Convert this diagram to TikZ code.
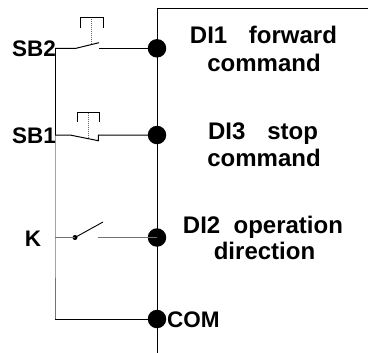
\documentclass[tikz,border=0pt]{standalone}
\usepackage{fontspec}
\setmainfont{Liberation Sans}
\begin{document}
\begin{tikzpicture}[x=1bp,y=-1bp,
  wire/.style={line width=1bp,black},
  kwire/.style={line width=1bp,black!55},
  stem/.style={line width=1bp,black!60,densely dotted},
  term/.style={circle,fill=black,inner sep=0pt,minimum size=18.5bp},
  lab/.style={font=\bfseries\fontsize{22.5bp}{26bp}\selectfont,inner sep=0pt},
  rtxt/.style={font=\bfseries\fontsize{24bp}{28bp}\selectfont,inner sep=0pt,anchor=base},
  kdot/.style={circle,fill=black,inner sep=0pt,minimum size=5bp}]
\useasboundingbox (0,0) rectangle (368,353);
% main vertical rail and top line
\coordinate (topR) at (368,8.7);
\coordinate (topL) at (157,8.7);
\coordinate (botR) at (157,353);
\draw[wire] (topR) -- (topL) -- (botR);
% terminals
\node[term] (t1) at (157,48.3) {};
\node[term] (t3) at (157,135) {};
\node[term] (t2) at (157,237.5) {};
\node[term] (tc) at (157,319) {};
% left rail
\coordinate (l1) at (55,48.3);
\coordinate (l3) at (55,135);
\coordinate (l2) at (55,237.5);
\coordinate (lc) at (55,319);
\draw[wire] (l1) -- (l3);
\draw[kwire] (l3) -- (l2) -- (lc);
\draw[wire] (lc) -- (tc.center);
% SB2 normally open push button
\coordinate (a1) at (76,48.3);
\coordinate (b1) at (99,42.7);
\coordinate (c1) at (99,48.3);
\draw[wire] (l1) -- (a1) -- (b1);
\draw[wire] (c1) -- (t1.center);
\coordinate (s1a) at (91.7,17.3);
\coordinate (s1b) at (91.7,45);
\draw[stem] (s1a) -- (s1b);
\coordinate (p1a) at (80,28.3);
\coordinate (p1b) at (80,17.3);
\coordinate (p1c) at (103.3,17.3);
\coordinate (p1d) at (103.3,28.3);
\draw[wire] (p1a) -- (p1b) -- (p1c) -- (p1d);
% SB1 normally closed push button
\coordinate (a3) at (70,135);
\coordinate (b3) at (98.3,140.7);
\coordinate (c3) at (98.3,135);
\draw[wire] (l3) -- (a3) -- (b3) -- (c3) -- (t3.center);
\coordinate (s3a) at (88.3,112.7);
\coordinate (s3b) at (88.3,138);
\draw[stem] (s3a) -- (s3b);
\coordinate (p3a) at (77.3,121.7);
\coordinate (p3b) at (77.3,112.7);
\coordinate (p3c) at (99.3,112.7);
\coordinate (p3d) at (99.3,121.7);
\draw[wire] (p3a) -- (p3b) -- (p3c) -- (p3d);
% K switch
\node[kdot] (kd) at (75,237.5) {};
\coordinate (kb) at (103,222);
\coordinate (kc) at (98,237.5);
\draw[kwire] (l2) -- (kd.center);
\draw[wire,line width=0.9bp] (kd.center) -- (kb);
\draw[kwire] (kc) -- (t2.center);
% labels
\node[lab,anchor=east] (sb2) at (56,48.5) {SB2};
\node[lab,anchor=east] (sb1) at (56,136) {SB1};
\node[lab] (k) at (33,239) {K};
\node[lab,anchor=west] (com) at (167,320) {COM};
% right texts
\node[rtxt] (d1a) at (263.5,43.5) {\makebox[147bp][s]{DI1 forward}};
\node[rtxt] (d1b) at (264,71) {command};
\node[rtxt] (d3a) at (263,139) {\makebox[110bp][s]{DI3 stop}};
\node[rtxt] (d3b) at (264,166.5) {command};
\node[rtxt] (d2a) at (263,233.5) {\makebox[160bp][s]{DI2 operation}};
\node[rtxt] (d2b) at (264.5,259) {direction};
\end{tikzpicture}
\end{document}
